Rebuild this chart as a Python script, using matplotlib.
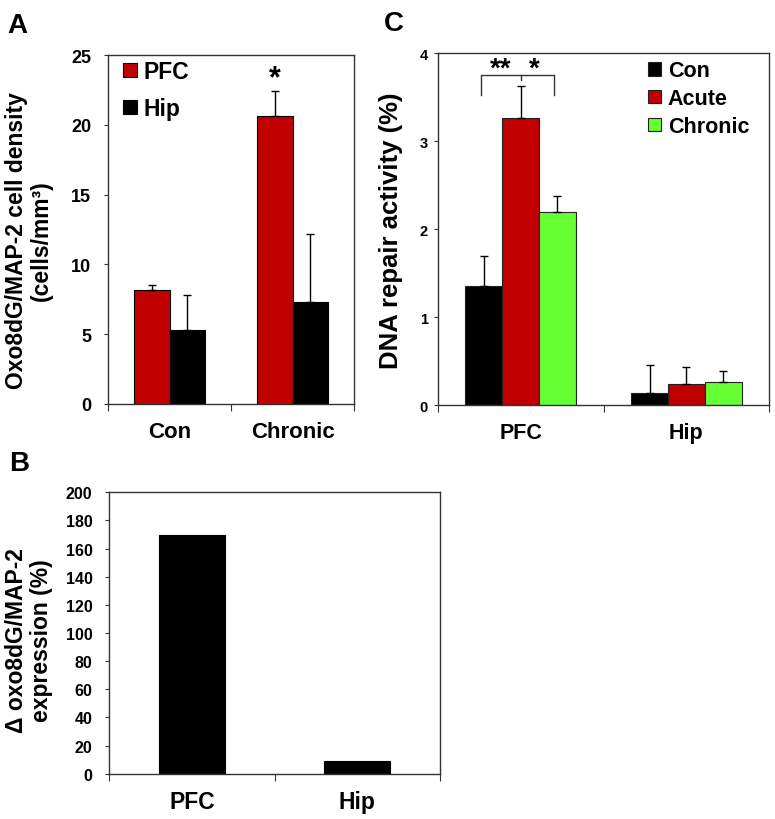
import numpy as np
import matplotlib.pyplot as plt

plt.rcParams['font.family'] = ['Liberation Sans', 'DejaVu Sans']
plt.rcParams['font.weight'] = 'bold'

# Panel A data
a_groups = ['Con', 'Chronic']
a_pfc = [8.2, 20.6]
a_pfc_err = [0.3, 1.8]
a_hip = [5.3, 7.3]
a_hip_err = [2.5, 4.9]

# Panel B data
b_groups = ['PFC', 'Hip']
b_vals = [170, 9]

# Panel C data
c_groups = ['PFC', 'Hip']
c_con = [1.36, 0.14]
c_con_err = [0.34, 0.32]
c_acute = [3.27, 0.24]
c_acute_err = [0.36, 0.20]
c_chronic = [2.20, 0.27]
c_chronic_err = [0.18, 0.12]

RED = '#C00000'
GREEN = '#66FF33'
SPINE = '#333333'

fig = plt.figure(figsize=(7.75, 8.2), dpi=100)


def style_axes(ax, ngroups, ticksize, catsize, labels):
    for s in ax.spines.values():
        s.set_color(SPINE)
        s.set_linewidth(1)
    ax.set_xlim(-0.5, ngroups - 0.5)
    ax.set_xticks(np.arange(ngroups + 1) - 0.5)
    ax.set_xticklabels([])
    ax.set_xticks(np.arange(ngroups), minor=True)
    ax.set_xticklabels(labels, minor=True, fontsize=catsize, fontweight='bold')
    ax.tick_params(axis='x', which='major', direction='out', length=5, color=SPINE)
    ax.tick_params(axis='x', which='minor', length=0, pad=12)
    ax.tick_params(axis='y', direction='out', length=3, color=SPINE, labelsize=ticksize)
    for t in ax.get_yticklabels():
        t.set_fontweight('bold')


def errs(vals):
    return [np.zeros(len(vals)), vals]


# ---- Panel A ----
axA = fig.add_axes([0.1394, 0.5061, 0.3174, 0.4256])
x = np.arange(len(a_groups))
w = 0.29
axA.bar(x - w / 2, a_pfc, w, color=RED, edgecolor='black', linewidth=0.8, label='PFC')
axA.bar(x + w / 2, a_hip, w, color='black', edgecolor='black', linewidth=0.8, label='Hip')
axA.errorbar(x - w / 2, a_pfc, yerr=errs(a_pfc_err), fmt='none', ecolor='black', elinewidth=1, capsize=3)
axA.errorbar(x + w / 2, a_hip, yerr=errs(a_hip_err), fmt='none', ecolor='black', elinewidth=1, capsize=3)
axA.set_ylim(0, 25)
axA.set_yticks([0, 5, 10, 15, 20, 25])
style_axes(axA, 2, 13, 16, a_groups)
axA.tick_params(axis='y', pad=9)
axA.set_ylabel('Oxo8dG/MAP-2 cell density\n(cells/mm³)', fontsize=16.5, fontweight='bold',
               linespacing=1.1)
axA.yaxis.set_label_coords(-0.225, 0.47)
axA.text(1 - w / 2, 23.3, '*', ha='center', va='center', fontsize=22, fontweight='bold')
axA.legend(loc='upper left', bbox_to_anchor=(0.06, 0.985), frameon=False,
           handlelength=0.6, handleheight=0.6, handletextpad=0.3, labelspacing=0.6,
           borderpad=0, borderaxespad=0, prop={'weight': 'bold', 'size': 16.5})

# ---- Panel C ----
axC = fig.add_axes([0.5648, 0.5045, 0.4279, 0.4293])
x = np.arange(len(c_groups))
w = 0.222
for off, vals, ev, col, lab in [(-w, c_con, c_con_err, 'black', 'Con'),
                                (0, c_acute, c_acute_err, RED, 'Acute'),
                                (w, c_chronic, c_chronic_err, GREEN, 'Chronic')]:
    axC.bar(x + off, vals, w, color=col, edgecolor='#222222', linewidth=0.8, label=lab)
    axC.errorbar(x + off, vals, yerr=errs(ev), fmt='none', ecolor='black', elinewidth=1, capsize=3)
axC.set_ylim(0, 4)
axC.set_yticks([0, 1, 2, 3, 4])
style_axes(axC, 2, 10.5, 15.5, c_groups)
axC.tick_params(axis='y', pad=4)
axC.set_ylabel('DNA repair activity (%)', fontsize=18.5, fontweight='bold')
axC.yaxis.set_label_coords(-0.105, 0.5)
# significance bracket
axC.plot([-0.237, -0.237, 0.2, 0.2], [3.53, 3.75, 3.75, 3.53], color='#333333', lw=1)
axC.plot([0, 0], [3.75, 3.70], color='#333333', lw=1)
axC.text(-0.12, 3.83, '**', ha='center', va='center', fontsize=20, fontweight='bold')
axC.text(0.085, 3.83, '*', ha='center', va='center', fontsize=20, fontweight='bold')
axC.legend(loc='upper left', bbox_to_anchor=(0.635, 0.98), frameon=False,
           handlelength=0.6, handleheight=0.6, handletextpad=0.3, labelspacing=0.32,
           borderpad=0, borderaxespad=0, prop={'weight': 'bold', 'size': 15.5})

# ---- Panel B ----
axB = fig.add_axes([0.1410, 0.0552, 0.4267, 0.3432])
x = np.arange(len(b_groups))
axB.bar(x, b_vals, 0.4, color='black', edgecolor='black', linewidth=0.8)
axB.set_ylim(0, 200)
axB.set_yticks(np.arange(0, 201, 20))
style_axes(axB, 2, 11.5, 16.5, b_groups)
axB.tick_params(axis='y', pad=9)
axB.set_ylabel('Δ oxo8dG/MAP-2\nexpression (%)', fontsize=16.5, fontweight='bold',
               linespacing=1.1)
axB.yaxis.set_label_coords(-0.17, 0.475)

# panel letters
fig.text(0.009, 0.968, 'A', fontsize=20, fontweight='bold', va='center')
fig.text(0.495, 0.971, 'C', fontsize=20, fontweight='bold', va='center')
fig.text(0.012, 0.434, 'B', fontsize=20, fontweight='bold', va='center')

fig.savefig('out.png', dpi=100)
